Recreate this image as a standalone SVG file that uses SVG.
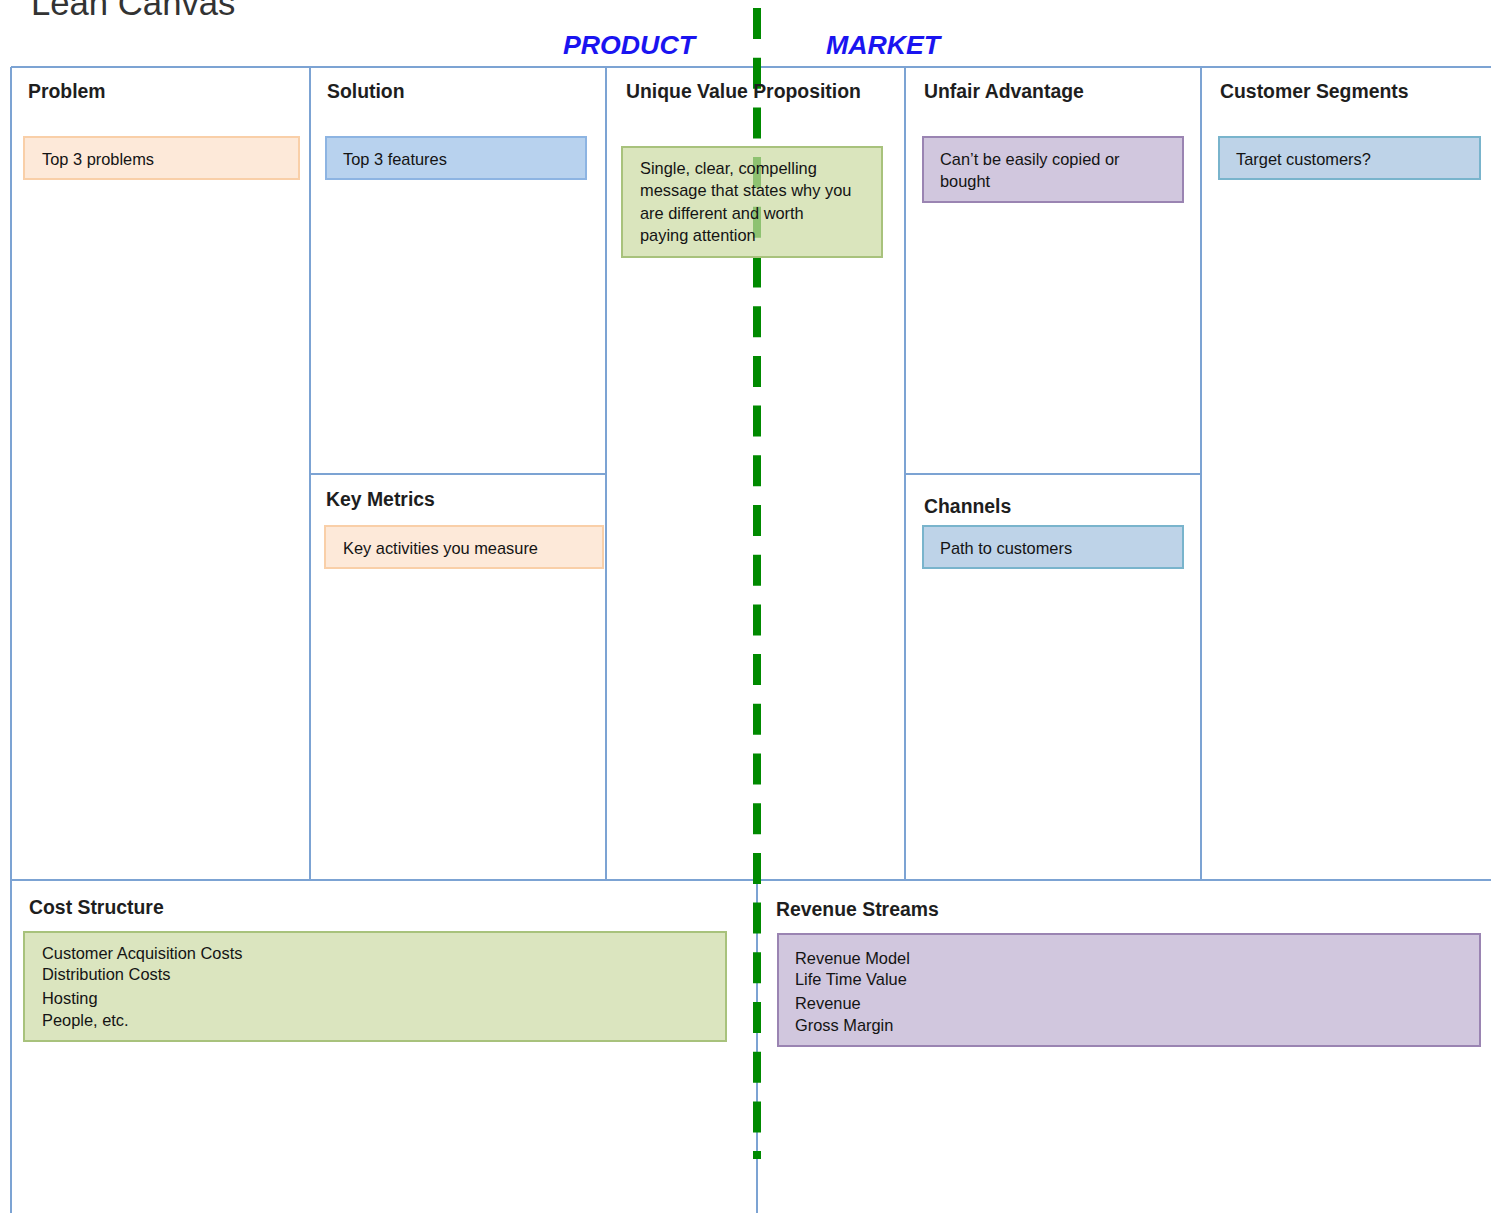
<svg xmlns="http://www.w3.org/2000/svg" width="1491" height="1213" viewBox="0 0 1491 1213">
<style>
.grid{stroke:#7ca3d3;stroke-width:2;fill:none}
.hd{font-family:"Liberation Sans",Arial,sans-serif;font-weight:bold;font-size:19.4px;fill:#1e1e1e}
.tx{font-family:"Liberation Sans",Arial,sans-serif;font-size:16.4px;fill:#141414}
.side{font-family:"Liberation Sans",Arial,sans-serif;font-weight:bold;font-style:italic;font-size:26.7px;fill:#1a14f0}
.orange{fill:#fde9d9;stroke:#f9cfa8;stroke-width:2}
.blue{fill:#b8d2ee;stroke:#8db4e2;stroke-width:2}
.teal{fill:#bed3e8;stroke:#79b4cc;stroke-width:2}
.green{fill:#dbe5bf;stroke:#a8c27c;stroke-width:2}
.purple{fill:#d1c7de;stroke:#9a84b2;stroke-width:2}
</style>
<rect width="1491" height="1213" fill="#ffffff"/>
<text x="31" y="15" font-family="'Liberation Sans',Arial,sans-serif" font-size="34.7" fill="#333333">Lean Canvas</text>
<text class="side" x="563" y="54">PRODUCT</text>
<text class="side" x="826" y="54">MARKET</text>

<g id="grid">
<path class="grid" d="M11,67 H1495 M11,67 V1215 M310,67 V880 M606,67 V880 M905,67 V880 M1201,67 V880 M310,474 H606 M905,474 H1201 M11,880 H1495 M757,880 V1215"/>
</g>

<g id="connectors">
<line x1="757" y1="8" x2="757" y2="1159" stroke="#008a00" stroke-width="8" stroke-dasharray="31 18.7"/>
</g>

<g id="problem">
<text class="hd" x="28" y="98">Problem</text>
<rect class="orange" x="24" y="137" width="275" height="42"/>
<text class="tx" x="42" y="165">Top 3 problems</text>
</g>
<g id="solution">
<text class="hd" x="327" y="98">Solution</text>
<rect class="blue" x="326" y="137" width="260" height="42"/>
<text class="tx" x="343" y="165">Top 3 features</text>
</g>
<g id="uvp">
<rect x="622" y="147" width="260" height="110" fill="#cadaa1" fill-opacity="0.7" stroke="#a8c27c" stroke-width="2"/>
<text class="hd" x="626" y="98">Unique Value Proposition</text>
<text class="tx" x="640" y="174">Single, clear, compelling</text>
<text class="tx" x="640" y="196">message that states why you</text>
<text class="tx" x="640" y="219">are different and worth</text>
<text class="tx" x="640" y="241">paying attention</text>
</g>
<g id="unfair">
<text class="hd" x="924" y="98">Unfair Advantage</text>
<rect class="purple" x="923" y="137" width="260" height="65"/>
<text class="tx" x="940" y="165">Can’t be easily copied or</text>
<text class="tx" x="940" y="187">bought</text>
</g>
<g id="segments">
<text class="hd" x="1220" y="98">Customer Segments</text>
<rect class="teal" x="1219" y="137" width="261" height="42"/>
<text class="tx" x="1236" y="165">Target customers?</text>
</g>
<g id="metrics">
<text class="hd" x="326" y="506">Key Metrics</text>
<rect class="orange" x="325" y="526" width="278" height="42"/>
<text class="tx" x="343" y="554">Key activities you measure</text>
</g>
<g id="channels">
<text class="hd" x="924" y="513">Channels</text>
<rect class="teal" x="923" y="526" width="260" height="42"/>
<text class="tx" x="940" y="554">Path to customers</text>
</g>
<g id="cost">
<text class="hd" x="29" y="914">Cost Structure</text>
<rect class="green" x="24" y="932" width="702" height="109"/>
<text class="tx" x="42" y="959">Customer Acquisition Costs</text>
<text class="tx" x="42" y="980">Distribution Costs</text>
<text class="tx" x="42" y="1004">Hosting</text>
<text class="tx" x="42" y="1026">People, etc.</text>
</g>
<g id="revenue">
<text class="hd" x="776" y="916">Revenue Streams</text>
<rect class="purple" x="778" y="934" width="702" height="112"/>
<text class="tx" x="795" y="964">Revenue Model</text>
<text class="tx" x="795" y="985">Life Time Value</text>
<text class="tx" x="795" y="1009">Revenue</text>
<text class="tx" x="795" y="1031">Gross Margin</text>
</g>
</svg>
